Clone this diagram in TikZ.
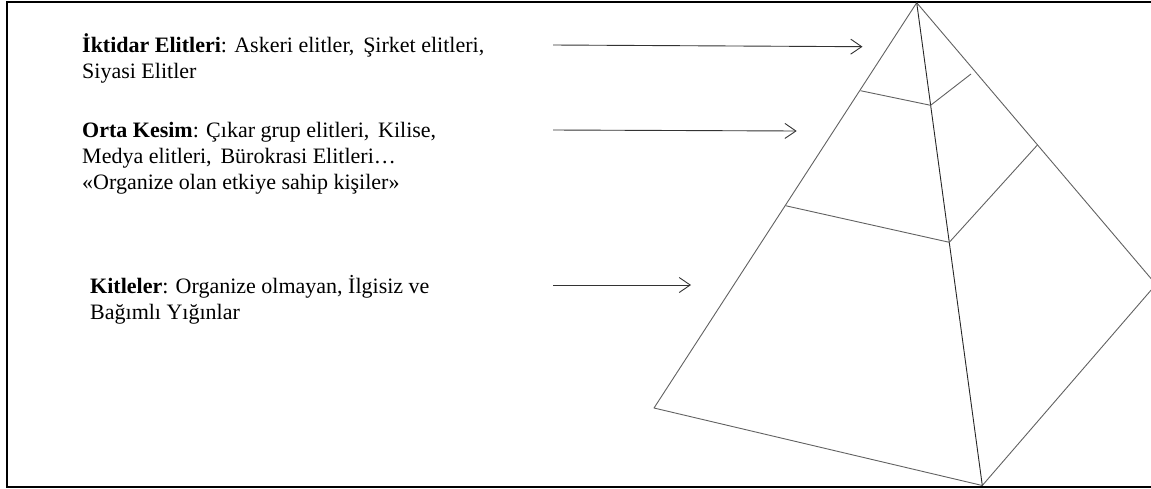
\documentclass[tikz,border=0pt]{standalone}
\usepackage{fontspec}
\setmainfont{Liberation Serif}
\usetikzlibrary{arrows.meta}
\begin{document}
\begin{tikzpicture}[x=1pt,y=-1pt,
  txt/.style={anchor=base west, inner sep=0pt, font=\fontsize{22}{26.5}\selectfont},
  pyr/.style={draw=black!62, line width=0.9pt, line join=round},
  axis/.style={draw=black!85, line width=0.9pt},
  pointer/.style={draw=black!80, line width=0.9pt, -{Straight Barb[length=11pt,width=15pt]}},
  framestyle/.style={draw=black, line width=2pt}]
\useasboundingbox (0,0) rectangle (1151,488);
\clip (0,0) rectangle (1151,488);
% frame
\draw[framestyle] (1160,2.3) -- (6.7,2.3) -- (6.7,486.7) -- (1160,486.7);
% pyramid corners
\coordinate (A) at (916.7,2.7);
\coordinate (L) at (654,408);
\coordinate (B) at (982.3,485.5);
\coordinate (R) at (1156,284.4);
% band points
\coordinate (t1) at (860.5,90.7);
\coordinate (t2) at (930.6,105.3);
\coordinate (t3) at (971,74);
\coordinate (m1) at (785.5,205.7);
\coordinate (m2) at (949.3,242.3);
\coordinate (m3) at (1037.4,145);
% pyramid outline
\draw[pyr] (A) -- (L) -- (B) -- (R) -- cycle;
\draw[axis] (A) -- (B);
\draw[pyr] (t1) -- (t2) -- (t3);
\draw[pyr] (m1) -- (m2) -- (m3);
% texts
\node[txt] (k1) at (82,52) {\textbf{İktidar Elitleri}: Askeri elitler,\hspace{0.4em}Şirket elitleri,};
\node[txt] (k2) at (82,78.5) {Siyasi Elitler};
\node[txt] (o1) at (82,137) {\textbf{Orta Kesim}: Çıkar grup elitleri,\hspace{0.4em}Kilise,};
\node[txt] (o2) at (82,163) {Medya elitleri,\hspace{0.4em}Bürokrasi Elitleri…};
\node[txt] (o3) at (82,189) {«Organize olan etkiye sahip kişiler»};
\node[txt] (c1) at (90,293) {\textbf{Kitleler}: Organize olmayan, İlgisiz ve};
\node[txt] (c2) at (90,319.5) {Bağımlı Yığınlar};
% arrows
\coordinate (s1) at (553,45);
\coordinate (e1) at (862.5,46.7);
\coordinate (s2) at (553,130);
\coordinate (e2) at (796.7,131);
\coordinate (s3) at (553,285);
\coordinate (e3) at (691,285);
\draw[pointer] (s1) -- (e1);
\draw[pointer] (s2) -- (e2);
\draw[pointer] (s3) -- (e3);
\end{tikzpicture}
\end{document}
